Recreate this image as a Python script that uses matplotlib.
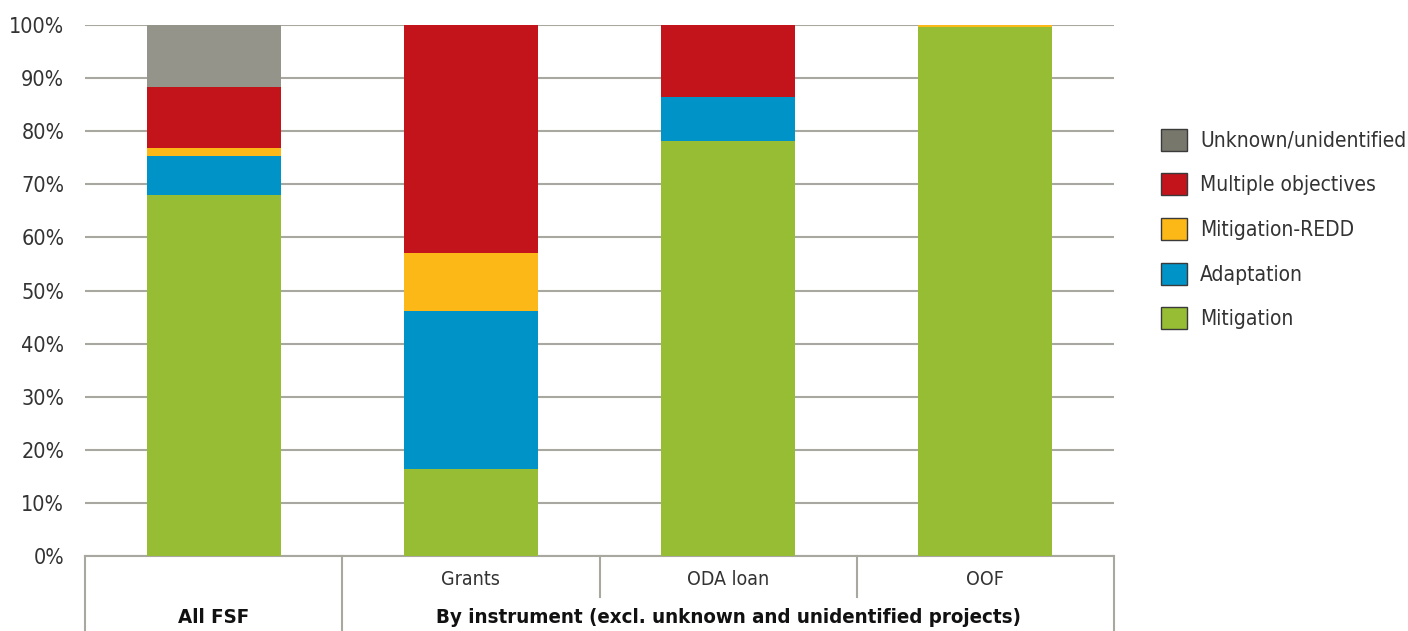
import matplotlib.pyplot as plt
from matplotlib.patches import Patch
from matplotlib.lines import Line2D

plt.rcParams['font.family'] = ['DejaVu Sans']
plt.rcParams['font.stretch'] = 'condensed'

bars = ["All FSF", "Grants", "ODA loan", "OOF"]
mitigation = [68.0, 16.4, 78.2, 99.7]
adaptation = [7.3, 29.7, 8.2, 0.0]
redd = [1.5, 11.0, 0.0, 0.3]
multiple = [11.5, 42.9, 13.6, 0.0]
unknown = [11.7, 0.0, 0.0, 0.0]

series = [
    ("Mitigation", mitigation, "#97bd35"),
    ("Adaptation", adaptation, "#0093c7"),
    ("Mitigation-REDD", redd, "#fbb817"),
    ("Multiple objectives", multiple, "#c3131b"),
    ("Unknown/unidentified", unknown, "#94948a"),
]
legend_gray = "#77776b"
grid_col = "#a8a8a0"

fig = plt.figure(figsize=(14.08, 6.31), dpi=100)
ax = fig.add_axes([85/1408, 1-556/631, (1114-85)/1408, (556-25)/631])

x = list(range(len(bars)))
bottom = [0.0]*len(bars)
for name, vals, col in series:
    ax.bar(x, vals, width=0.52, bottom=bottom, color=col, zorder=3)
    bottom = [b+v for b, v in zip(bottom, vals)]

ax.set_xlim(-0.5, 3.5)
ax.set_ylim(0, 100)
ax.set_yticks(range(0, 101, 10))
ax.set_yticklabels([f"{t}%" for t in range(0, 101, 10)], fontsize=15.5, color="#333333")
ax.set_xticks([])
ax.yaxis.grid(True, color=grid_col, linewidth=1.5, zorder=0)
for s in ["left", "right", "top"]:
    ax.spines[s].set_visible(False)
ax.spines["bottom"].set_color(grid_col)
ax.spines["bottom"].set_linewidth(1.5)
ax.tick_params(axis="y", length=0, pad=15)

# category labels under the axis
tr = ax.get_xaxis_transform()
for i in [1, 2, 3]:
    ax.text(i, -0.045, bars[i], transform=tr, ha="center", va="center", fontsize=14, color="#333333")
ax.text(0, -0.115, "All FSF", transform=tr, ha="center", va="center", fontsize=14.7, fontweight="bold", color="#111111")
ax.text(2, -0.115, "By instrument (excl. unknown and unidentified projects)", transform=tr,
        ha="center", va="center", fontsize=14.7, fontweight="bold", color="#111111")
for xs, y0 in [(-0.5, -0.141), (0.5, -0.141), (3.5, -0.141), (1.5, -0.077), (2.5, -0.077)]:
    ax.add_line(Line2D([xs, xs], [0, y0], transform=tr, color=grid_col, linewidth=1.5, clip_on=False))

handles = []
for name, vals, col in reversed(series):
    fc = legend_gray if name.startswith("Unknown") else col
    handles.append(Patch(facecolor=fc, edgecolor="#3a3a3a", linewidth=1.0, label=name))
fig.legend(handles=handles, loc="center left", bbox_to_anchor=(1142/1408, 1-229/631), frameon=False,
           fontsize=15, handlelength=1.25, handleheight=1.25, labelspacing=1.09, handletextpad=0.65,
           labelcolor="#333333")

fig.savefig("out.png", dpi=100)
